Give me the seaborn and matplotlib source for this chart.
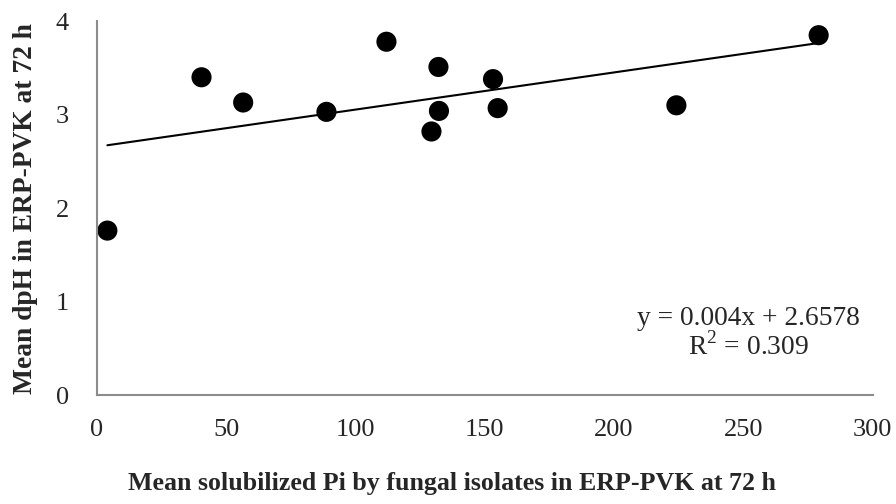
import matplotlib
matplotlib.use("Agg")
import matplotlib.pyplot as plt
import seaborn as sns
import numpy as np
import pandas as pd

pi_solubilized = [4.1, 40.5, 56.6, 88.8, 112.0, 132.1, 132.3, 129.4, 153.2, 155.0, 224.1, 279.1]
mean_dph = [1.76, 3.40, 3.13, 3.03, 3.78, 3.51, 3.04, 2.82, 3.38, 3.07, 3.10, 3.85]
x_ticks = [0, 50, 100, 150, 200, 250, 300]
y_ticks = [0, 1, 2, 3, 4]
equation_text = "y = 0.004x + 2.6578\nR$^2$ = 0.309"

df = pd.DataFrame({"x": pi_solubilized, "y": mean_dph})

sns.set_style("white")
plt.rcParams['font.family'] = ['Liberation Serif', 'DejaVu Serif']
plt.rcParams['mathtext.fontset'] = 'custom'
plt.rcParams['mathtext.rm'] = 'Liberation Serif'

fig = plt.figure(figsize=(8.96, 5.04), dpi=100)
ax = fig.add_axes([0.108, 0.216, 0.866, 0.742])

sns.regplot(data=df, x="x", y="y", ax=ax, ci=None, truncate=True,
            scatter_kws=dict(s=210, color="black", edgecolor="none", alpha=1),
            line_kws=dict(color="black", lw=1.5))

ax.set_xlim(0, 300)
ax.set_ylim(0, 4)
ax.set_xticks(x_ticks)
ax.set_yticks(y_ticks)
ax.tick_params(axis="both", direction="out", length=8, width=1.5, color="#8c8c8c",
               labelsize=19)
ax.tick_params(axis="x", pad=9)
ax.tick_params(axis="y", pad=12)
for s in ["top", "right"]:
    ax.spines[s].set_visible(False)
for s in ["left", "bottom"]:
    ax.spines[s].set_color("#8c8c8c")
    ax.spines[s].set_linewidth(1.5)

ax.set_xlabel("Mean solubilized Pi by fungal isolates in ERP-PVK at 72 h",
              fontsize=18.6, fontweight="bold")
ax.xaxis.set_label_coords(0.505, 0.0, transform=fig.transFigure)
ax.xaxis.label.set_verticalalignment("bottom")
ax.xaxis.label.set_y(0.018)
ax.set_ylabel("Mean dpH in ERP-PVK at 72 h", fontsize=19.8, fontweight="bold")
ax.yaxis.set_label_coords(0.028, 0.5 * (0.216 + 0.958), transform=fig.transFigure)
ax.yaxis.label.set_verticalalignment("center")

ax.text(252, 0.66, equation_text, fontsize=19.8, ha="center", va="center", linespacing=1.05)

fig.savefig("out.png", dpi=100)
